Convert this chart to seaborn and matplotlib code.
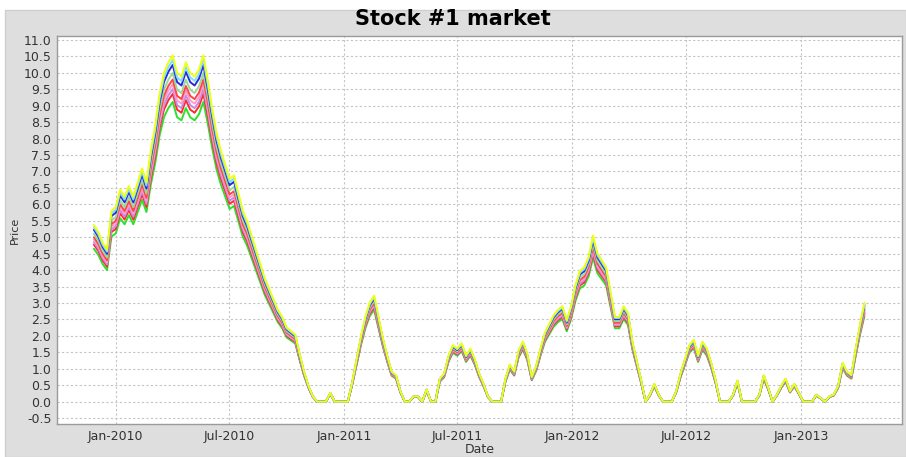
import pandas as pd
import matplotlib.pyplot as plt
import matplotlib.dates as mdates
from matplotlib.patches import Rectangle
import seaborn as sns


# Weekly middle price of the band (Nov 2009 - Apr 2013)
start_date = '2009-11-27'
base_price = [
    5.0, 4.8, 4.5, 4.3, 5.4, 5.5, 6.0, 5.8, 6.1, 5.8,
    6.2, 6.6, 6.2, 7.1, 7.8, 8.7, 9.3, 9.6, 9.8, 9.3,
    9.2, 9.6, 9.3, 9.2, 9.4, 9.8, 9.1, 8.3, 7.6, 7.1,
    6.7, 6.3, 6.4, 5.9, 5.4, 5.1, 4.7, 4.3, 3.9, 3.5,
    3.2, 2.9, 2.6, 2.4, 2.1, 2.0, 1.9, 1.35, 0.85, 0.45,
    0.15, 0.0, 0.0, 0.0, 0.25, 0.0, 0.0, 0.0, 0.0, 0.55,
    1.2, 1.85, 2.4, 2.8, 3.0, 2.4, 1.8, 1.3, 0.85, 0.75,
    0.3, 0.0, 0.0, 0.15, 0.15, 0.0, 0.35, 0.0, 0.0, 0.65,
    0.8, 1.3, 1.6, 1.5, 1.65, 1.3, 1.5, 1.2, 0.8, 0.5,
    0.15, 0.0, 0.0, 0.0, 0.65, 1.05, 0.85, 1.45, 1.7, 1.35,
    0.7, 1.0, 1.5, 1.95, 2.2, 2.45, 2.6, 2.7, 2.3, 2.7,
    3.3, 3.7, 3.8, 4.1, 4.7, 4.2, 4.0, 3.8, 3.1, 2.4,
    2.4, 2.7, 2.5, 1.7, 1.15, 0.6, 0.0, 0.2, 0.5, 0.2,
    0.0, 0.0, 0.0, 0.3, 0.8, 1.2, 1.6, 1.75, 1.3, 1.7,
    1.5, 1.1, 0.6, 0.0, 0.0, 0.0, 0.2, 0.6, 0.0, 0.0,
    0.0, 0.0, 0.2, 0.75, 0.4, 0.0, 0.2, 0.45, 0.65, 0.3,
    0.5, 0.25, 0.0, 0.0, 0.0, 0.2, 0.1, 0.0, 0.15, 0.2,
    0.45, 1.1, 0.85, 0.75, 1.5, 2.2, 2.8,
]

# Series, bottom of the band first (drawn first), with their ratio to the middle
series_names = ['s9', 's8', 's7', 's6', 's5', 's4', 's3', 's2', 's1']
series_ratio = [0.93, 0.955, 0.97, 0.985, 1.0, 1.02, 1.045, 1.06, 1.075]
series_colors = ['#2ee02e', '#ff2a2a', '#c58ae6', '#ff9ccc', '#ff4545',
                 '#98d898', '#2a2ad8', '#7fdcff', '#eeff10']

y_ticks = [v / 2 for v in range(-1, 23)]

dates = pd.date_range(start_date, periods=len(base_price), freq='7D')
frames = []
for name, r in zip(series_names, series_ratio):
    frames.append(pd.DataFrame({'Date': dates,
                                'Price': [p * r for p in base_price],
                                'Series': name}))
data = pd.concat(frames, ignore_index=True)

sns.set_theme(style='white')
plt.rcParams['font.family'] = ['DejaVu Sans']

fig = plt.figure(figsize=(9.06, 4.57), dpi=100)
fig.patch.set_facecolor('white')
fig.patches.append(Rectangle((5 / 906, 0), 901 / 906, 447 / 457,
                             transform=fig.transFigure, facecolor='#dedede',
                             edgecolor='#cfcfcf', zorder=-1))
ax = fig.add_axes([57 / 906, 33 / 457, 845 / 906, 388 / 457])
ax.set_facecolor('white')

sns.lineplot(data=data, x='Date', y='Price', hue='Series',
             hue_order=series_names, palette=series_colors,
             linewidth=1.4, legend=False, ax=ax)

ax.set_xlim(pd.Timestamp('2009-09-29'), pd.Timestamp('2013-06-11'))
ax.set_ylim(-0.68, 11.12)
ax.set_yticks(y_ticks)
ax.yaxis.set_major_formatter(plt.FuncFormatter(lambda v, p: f'{v:.1f}'))
ax.xaxis.set_major_locator(mdates.MonthLocator(bymonth=[1, 7]))
ax.xaxis.set_major_formatter(mdates.DateFormatter('%b-%Y'))

ax.grid(True, color='#c4c4c4', linestyle=(0, (2, 2)), linewidth=0.8)
for s in ax.spines.values():
    s.set_color('#9a9a9a')
    s.set_linewidth(1.0)
ax.tick_params(length=2, color='#9a9a9a', labelsize=9, labelcolor='#333333', pad=2)

ax.set_xlabel('Date', fontsize=9, color='#333333', va='center')
ax.set_ylabel('Price', fontsize=8, color='#333333', va='center')
ax.xaxis.set_label_coords(0.5, -0.066)
ax.yaxis.set_label_coords(-0.05, 0.5)

fig.text(0.5, 1 - 19 / 457, 'Stock #1 market', ha='center', va='center',
         fontsize=15, fontweight='bold', color='black')

fig.savefig('out.png', dpi=100)
